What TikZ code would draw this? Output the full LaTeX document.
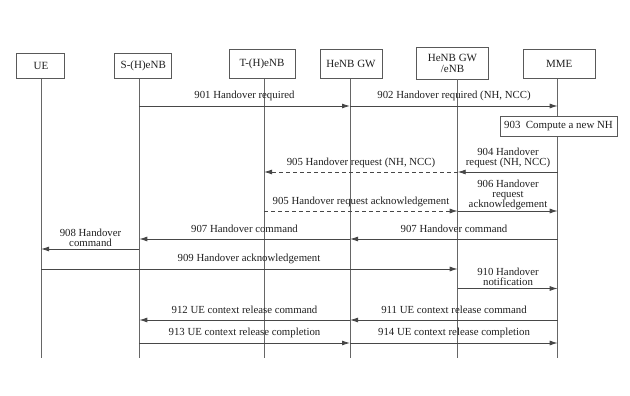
\documentclass[tikz,border=0pt]{standalone}
\usepackage{fontspec}
\setmainfont{Liberation Serif}
\usetikzlibrary{arrows.meta}
\begin{document}
\begin{tikzpicture}[x=1pt,y=-1pt,
  every node/.style={font=\fontsize{10.8}{10}\selectfont, text=black!88, inner sep=0pt},
  actor/.style={draw=black!65, line width=0.9pt, fill=white,
    font=\fontsize{11}{11}\selectfont, align=center},
  life/.style={draw=black!60, line width=0.9pt},
  msg/.style={draw=black!72, line width=0.9pt, -{Latex[length=8pt,width=5pt]}},
  dmsg/.style={msg, dash pattern=on 4pt off 3pt},
  lbl/.style={align=center}
]
\useasboundingbox (0,0) rectangle (630,396);

% participants
\node[actor, minimum width=48pt, minimum height=25pt] (ue)  at (40.9,65.8) {UE};
\node[actor, minimum width=57pt, minimum height=25pt] (s)   at (143.3,65.8) {S-(H)eNB};
\node[actor, minimum width=66pt, minimum height=29pt] (t)   at (262,63.7) {T-(H)eNB};
\node[actor, minimum width=62pt, minimum height=29pt] (gw)  at (351,63.7) {HeNB GW};
\node[actor, minimum width=72pt, minimum height=32pt] (gwe) at (452.5,63) {HeNB GW\\/eNB};
\node[actor, minimum width=72pt, minimum height=29pt] (mme) at (559.2,63.7) {MME};

% lifeline ends
\coordinate (Lue)  at (41,358);
\coordinate (Ls)   at (139.3,358);
\coordinate (Lt)   at (264,358);
\coordinate (Lgw)  at (350,358);
\coordinate (Lgwe) at (457.7,358);
\coordinate (Lmme) at (557.7,358);

\foreach \n/\l in {ue/Lue, s/Ls, t/Lt, gw/Lgw, gwe/Lgwe, mme/Lmme}
  \draw[life] (\n.south -| \l) -- (\l);

% message rows
\coordinate (r901) at (0,106);
\coordinate (r904) at (0,172);
\coordinate (r906) at (0,211);
\coordinate (r907) at (0,239);
\coordinate (r908) at (0,249);
\coordinate (r909) at (0,269);
\coordinate (r910) at (0,288.5);
\coordinate (r911) at (0,320);
\coordinate (r913) at (0,343);

% local step at the MME
\node[draw=black!65, line width=0.9pt, fill=white, minimum width=117pt,
      minimum height=20pt, font=\fontsize{10.9}{11}\selectfont] (c903) at (558.5,126)
      {903~~Compute a new NH};

% messages
\draw[msg]  (Ls |- r901)   -- (Lgw |- r901);
\draw[msg]  (Lgw |- r901)  -- (Lmme |- r901);
\draw[msg]  (Lmme |- r904) -- (Lgwe |- r904);
\draw[dmsg] (Lgwe |- r904) -- (Lt |- r904);
\draw[dmsg] (Lt |- r906)   -- (Lgwe |- r906);
\draw[msg]  (Lgwe |- r906) -- (Lmme |- r906);
\draw[msg]  (Lmme |- r907) -- (Lgw |- r907);
\draw[msg]  (Lgw |- r907)  -- (Ls |- r907);
\draw[msg]  (Ls |- r908)   -- (Lue |- r908);
\draw[msg]  (Lue |- r909)  -- (Lgwe |- r909);
\draw[msg]  (Lgwe |- r910) -- (Lmme |- r910);
\draw[msg]  (Lmme |- r911) -- (Lgw |- r911);
\draw[msg]  (Lgw |- r911)  -- (Ls |- r911);
\draw[msg]  (Ls |- r913)   -- (Lgw |- r913);
\draw[msg]  (Lgw |- r913)  -- (Lmme |- r913);

% message labels
\node[lbl] (l901) at (244.5,96)  {901 Handover required};
\node[lbl] (l902) at (454,96)    {902 Handover required (NH, NCC)};
\node[lbl] (l904) at (508,158)   {904 Handover\\request (NH, NCC)};
\node[lbl] (l905) at (361,163)   {905 Handover request (NH, NCC)};
\node[lbl] (l905b) at (361,202)  {905 Handover request acknowledgement};
\node[lbl] (l906) at (508,194.5) {906 Handover\\request\\acknowledgement};
\node[lbl] (l907a) at (244.5,229) {907 Handover command};
\node[lbl] (l907b) at (454,229)  {907 Handover command};
\node[lbl] (l908) at (90.5,238)  {908 Handover\\command};
\node[lbl] (l909) at (249,259)   {909 Handover acknowledgement};
\node[lbl] (l910) at (508,276.5) {910 Handover\\notification};
\node[lbl] (l912) at (244.5,310) {912 UE context release command};
\node[lbl] (l911) at (454,310)   {911 UE context release command};
\node[lbl] (l913) at (244.5,333) {913 UE context release completion};
\node[lbl] (l914) at (454,333)   {914 UE context release completion};
\end{tikzpicture}
\end{document}
